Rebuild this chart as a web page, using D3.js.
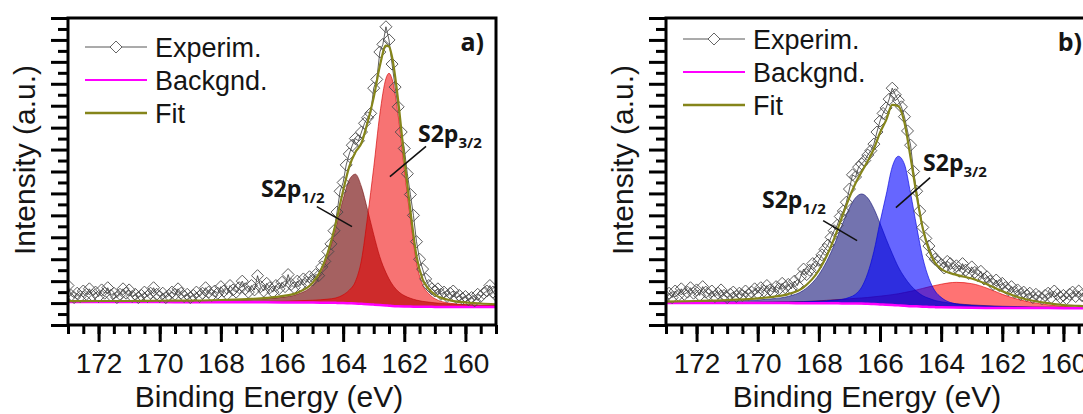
<!DOCTYPE html>
<html>
<head>
<meta charset="utf-8">
<script src="https://cdn.jsdelivr.net/npm/d3@7"></script>
<style>
  body { margin: 0; background: #fff; overflow: hidden; }
  svg text { font-family: Arial, "Liberation Sans", sans-serif; fill: #151515; }
  .tick-label { font-size: 28px; }
  .axis-title { font-size: 30px; }
  .legend-label { font-size: 27px; }
  .panel-label, .peak-label { font-family: "Open Sans", sans-serif; font-weight: bold; }
</style>
</head>
<body>
<div id="chart"></div>
<script>
// ---- axes ----
const energyDomain = [173, 159];
const intensityDomain = [0, 28];
const xTickLabels = [172, 170, 168, 166, 164, 162, 160];

// ---- panel a) : fitted components on a shared energy grid (eV) ----
const energyGridA = [173, 172, 171, 170, 169, 168, 167, 166.5, 166, 165.5, 165, 164.75, 164.5, 164.25, 164, 163.8, 163.6, 163.4, 163.2, 163, 162.8, 162.6, 162.5, 162.4, 162.2, 162, 161.8, 161.6, 161.4, 161.2, 161, 160.5, 160, 159.5, 159];
const backgroundA = [2.10, 2.10, 2.09, 2.09, 2.08, 2.08, 2.07, 2.07, 2.06, 2.06, 2.05, 2.04, 2.03, 2.02, 2.00, 1.98, 1.96, 1.93, 1.90, 1.86, 1.82, 1.78, 1.76, 1.74, 1.71, 1.69, 1.68, 1.67, 1.66, 1.66, 1.65, 1.65, 1.65, 1.65, 1.65];
const s2p12A = [0.03, 0.04, 0.05, 0.07, 0.09, 0.14, 0.24, 0.32, 0.46, 0.74, 1.58, 2.58, 4.27, 6.70, 9.50, 11.27, 11.80, 10.67, 8.60, 6.40, 4.40, 3.00, 2.45, 2.00, 1.36, 0.99, 0.76, 0.60, 0.50, 0.43, 0.37, 0.27, 0.20, 0.16, 0.13];
const s2p32A = [0.05, 0.05, 0.05, 0.05, 0.05, 0.06, 0.07, 0.09, 0.11, 0.15, 0.21, 0.26, 0.33, 0.44, 0.75, 1.20, 2.00, 4.00, 8.00, 12.5, 17.4, 20.7, 21.2, 20.7, 17.4, 12.5, 8.00, 4.00, 2.00, 1.20, 0.75, 0.33, 0.21, 0.15, 0.11];
const fitA = [2.18, 2.19, 2.19, 2.21, 2.22, 2.28, 2.38, 2.48, 2.63, 2.95, 3.84, 4.88, 6.63, 9.16, 12.25, 14.45, 15.76, 16.6, 18.5, 20.76, 23.62, 25.48, 25.41, 24.44, 20.47, 15.18, 10.44, 6.27, 4.16, 3.29, 2.77, 2.25, 2.06, 1.96, 1.89];

// ---- panel b) ----
const energyGridB = [173, 172, 171, 170, 169.5, 169, 168.5, 168, 167.75, 167.5, 167.25, 167, 166.8, 166.6, 166.4, 166.2, 166, 165.8, 165.6, 165.4, 165.2, 165, 164.8, 164.6, 164.4, 164.2, 164, 163.5, 163, 162.5, 162, 161.5, 161, 160.5, 160, 159.5, 159];
const backgroundB = [2.00, 2.00, 2.00, 2.00, 2.00, 2.00, 1.99, 1.99, 1.98, 1.98, 1.97, 1.97, 1.96, 1.95, 1.93, 1.91, 1.88, 1.85, 1.82, 1.79, 1.76, 1.72, 1.70, 1.67, 1.65, 1.63, 1.62, 1.59, 1.57, 1.56, 1.55, 1.55, 1.54, 1.54, 1.53, 1.53, 1.53];
const s2p12B = [0.09, 0.12, 0.18, 0.29, 0.40, 0.61, 1.18, 2.60, 3.80, 5.30, 7.10, 8.70, 9.65, 10.0, 9.65, 8.70, 7.40, 6.00, 4.70, 3.50, 2.60, 1.90, 1.37, 1.00, 0.78, 0.61, 0.50, 0.35, 0.26, 0.20, 0.16, 0.13, 0.11, 0.095, 0.08, 0.07, 0.06];
const s2p32B = [0.02, 0.03, 0.04, 0.06, 0.07, 0.09, 0.12, 0.18, 0.22, 0.28, 0.36, 0.55, 0.85, 1.50, 2.80, 4.80, 7.50, 10.0, 12.6, 13.6, 12.9, 10.3, 7.25, 4.45, 2.60, 1.47, 0.90, 0.33, 0.21, 0.15, 0.11, 0.08, 0.06, 0.05, 0.04, 0.035, 0.03];
const thirdPeakB = [0.03, 0.04, 0.05, 0.08, 0.10, 0.12, 0.15, 0.22, 0.27, 0.32, 0.37, 0.42, 0.47, 0.52, 0.58, 0.66, 0.75, 0.84, 0.95, 1.06, 1.20, 1.35, 1.50, 1.67, 1.83, 1.97, 2.10, 2.30, 2.20, 1.80, 1.25, 0.80, 0.50, 0.30, 0.17, 0.10, 0.06];
const fitB = [2.14, 2.19, 2.27, 2.43, 2.57, 2.82, 3.44, 4.99, 6.27, 7.88, 9.80, 11.64, 12.93, 13.97, 14.96, 16.07, 17.53, 18.69, 20.07, 19.95, 18.46, 15.27, 11.82, 8.79, 6.86, 5.68, 5.12, 4.57, 4.24, 3.71, 3.07, 2.56, 2.21, 1.99, 1.82, 1.74, 1.68];

// ---- experimental points, 173.0 -> 159.0 eV in 0.1 eV steps ----
const expStart = 173, expStep = 0.1;
const experimA = [
  3.6, 2.7, 2.5, 2.9, 2.6, 3.1, 2.8, 3.3, 2.7, 3.0, 2.6, 3.2, 2.9, 3.4, 2.7, 2.9, 2.5, 2.8, 3.3, 2.9,
  3.2, 2.6, 2.8, 2.5, 2.7, 3.0, 2.6, 2.9, 3.4, 2.8, 2.6,
  2.9, 2.5, 2.7, 3.0, 2.8, 3.3, 2.9, 2.6, 2.8, 2.5, 2.7, 3.0, 2.6, 2.9, 3.4, 3.0, 2.7, 3.1, 2.9, 3.5,
  3.1, 2.8, 3.6, 3.2, 3.0, 3.4, 4.0, 3.3, 3.0, 3.6, 3.2, 4.5, 3.5, 3.1, 3.8, 3.4, 3.0, 3.6, 3.3, 3.9,
  3.5, 4.6, 3.7, 3.4, 4.0, 3.6, 4.2, 3.9, 4.4, 4.1, 4.6, 4.5, 5.3, 5.8, 6.7, 7.4, 8.6, 10.3, 12.2, 13.0,
  14.6, 15.6, 16.4, 17.0, 16.8, 17.6, 18.4, 18.9, 19.3, 21.6, 22.4, 24.9, 25.6, 27.2, 26.0, 23.8, 21.7, 19.9, 17.6, 16.1,
  13.8, 11.9, 10.0, 7.6, 6.0, 5.1, 4.2, 3.6, 3.3, 3.1,
  3.3, 2.8, 3.0, 2.6, 2.9, 3.1, 2.5, 2.7, 2.4, 2.6, 2.3, 2.5, 2.2, 2.8, 2.6, 2.9, 3.1, 3.6, 3.0, 2.7
];
const experimB = [
  2.6, 2.9, 2.5, 3.1, 2.7, 3.3, 2.8, 3.0, 3.4, 2.9, 3.2, 2.7, 3.5, 3.0, 2.8, 3.1, 2.6, 2.9, 3.2, 2.7,
  2.5, 2.8, 3.0, 2.6, 2.9, 2.7, 3.1, 2.8, 3.0, 3.3,
  2.9, 3.4, 3.1, 3.6, 3.2, 3.0, 3.5, 3.3, 3.8, 3.4, 3.7, 3.3, 4.0, 3.6, 4.4, 5.1, 4.6, 5.0, 5.6, 5.3,
  5.9, 6.4, 6.9, 7.3, 8.0, 8.6, 9.1, 9.9, 10.4, 11.2, 12.4, 13.7, 13.5, 14.4, 14.7, 15.0, 15.5, 15.9, 16.5, 17.6,
  18.6, 19.3, 19.8, 20.6, 21.6, 21.0, 20.5, 19.9, 19.0, 17.7, 16.4, 14.0, 12.2, 10.4, 8.9, 7.9, 7.2, 6.4, 6.0, 5.8,
  5.5, 5.2, 5.8, 5.6, 5.1, 5.4, 4.9, 5.6, 5.0, 4.7, 5.3, 4.8, 4.5, 4.9, 4.2, 4.4, 4.0, 3.7, 4.1, 3.6,
  3.8, 3.4, 3.2, 3.5, 3.0, 3.2, 2.8, 3.0, 2.7, 2.9, 2.5, 2.8, 2.6, 2.4, 2.7, 2.9, 2.5, 3.1, 2.8, 2.5,
  2.7, 2.4, 2.8, 3.0, 2.6, 3.1, 2.7, 2.5, 2.8, 2.6, 2.9
];

const legendItems = ['Experim.', 'Backgnd.', 'Fit'];

class XpsPanel {

  constructor(_config, _data) {
    this.config = {
      parentElement: _config.parentElement,
      id: _config.id,
      offsetX: _config.offsetX || 0,
      margin: {top: 18, left: 68},
      width: 428,
      height: 307,
      panelLabel: _config.panelLabel,
      legendTop: _config.legendTop,
      components: _config.components,
      notes: _config.notes
    };
    this.data = _data;
    this.initVis();
  }

  initVis() {
    let vis = this;

    vis.chart = vis.config.parentElement.append('g')
        .attr('transform', `translate(${vis.config.offsetX + vis.config.margin.left},${vis.config.margin.top})`);

    vis.xScale = d3.scaleLinear().domain(energyDomain).range([0, vis.config.width]);
    vis.yScale = d3.scaleLinear().domain(intensityDomain).range([vis.config.height, 0]);

    vis.chart.append('clipPath').attr('id', `clip-${vis.config.id}`)
      .append('rect')
        .attr('width', vis.config.width)
        .attr('height', vis.config.height);

    vis.plot = vis.chart.append('g').attr('clip-path', `url(#clip-${vis.config.id})`);

    vis.renderVis();
  }

  renderVis() {
    let vis = this;
    const grid = vis.data.grid;
    const bg = vis.data.background;

    // Filled peak components sitting on the background
    vis.config.components.forEach(c => {
      const area = d3.area()
          .x((d, i) => vis.xScale(grid[i]))
          .y0((d, i) => vis.yScale(bg[i]))
          .y1((d, i) => vis.yScale(bg[i] + d))
          .curve(d3.curveMonotoneX);
      vis.plot.append('path')
          .datum(c.values)
          .attr('d', area)
          .attr('fill', c.fill)
          .attr('stroke', c.stroke)
          .attr('stroke-width', 0.8);
    });

    const gridLine = d3.line()
        .x((d, i) => vis.xScale(grid[i]))
        .y(d => vis.yScale(d))
        .curve(d3.curveMonotoneX);

    // Background
    vis.plot.append('path')
        .datum(bg)
        .attr('d', gridLine)
        .attr('fill', 'none')
        .attr('stroke', '#ff00ff')
        .attr('stroke-width', 2.5);

    // Experimental points
    const exp = vis.data.experim.map((v, i) => ({e: expStart - i * expStep, v: v}));
    vis.plot.append('path')
        .datum(exp)
        .attr('d', d3.line().x(d => vis.xScale(d.e)).y(d => vis.yScale(d.v)))
        .attr('fill', 'none')
        .attr('stroke', '#1a1a1a')
        .attr('stroke-width', 0.7);

    vis.plot.selectAll('.pt')
        .data(exp)
      .join('path')
        .attr('class', 'pt')
        .attr('transform', d => `translate(${vis.xScale(d.e)},${vis.yScale(d.v)})`)
        .attr('d', 'M0,-6L6,0L0,6L-6,0Z')
        .attr('fill', 'none')
        .attr('stroke', '#4a4a4a')
        .attr('stroke-width', 0.9);

    // Fit envelope
    vis.plot.append('path')
        .datum(vis.data.fit)
        .attr('d', gridLine)
        .attr('fill', 'none')
        .attr('stroke', '#85851a')
        .attr('stroke-width', 2.2);

    // Peak annotations
    vis.config.notes.forEach(n => {
      vis.chart.append('line')
          .attr('x1', vis.xScale(n.line[0][0])).attr('y1', vis.yScale(n.line[0][1]))
          .attr('x2', vis.xScale(n.line[1][0])).attr('y2', vis.yScale(n.line[1][1]))
          .attr('stroke', '#111')
          .attr('stroke-width', 1.6);
      const t = vis.chart.append('text')
          .attr('class', 'peak-label')
          .attr('x', vis.xScale(n.e))
          .attr('y', vis.yScale(n.i))
          .style('font-size', '23px')
          .text('S2p');
      t.append('tspan')
          .attr('dy', 6)
          .style('font-size', '15px')
          .text(n.sub);
    });

    // Frame
    vis.chart.append('rect')
        .attr('width', vis.config.width)
        .attr('height', vis.config.height)
        .attr('fill', 'none')
        .attr('stroke', '#000')
        .attr('stroke-width', 3);

    // X axis: major ticks with labels, minor ticks every 0.5 eV
    const xMinor = d3.range(energyDomain[0], energyDomain[1] - 0.01, -0.5);
    const xAxisG = vis.chart.append('g')
        .attr('transform', `translate(0,${vis.config.height})`);
    xAxisG.append('g')
        .call(d3.axisBottom(vis.xScale).tickValues(xMinor).tickSize(9).tickFormat(''));
    xAxisG.append('g')
        .call(d3.axisBottom(vis.xScale).tickValues(xTickLabels).tickSize(17).tickFormat(d3.format('d')));
    xAxisG.selectAll('.domain').remove();
    xAxisG.selectAll('.tick line').attr('stroke', '#000').attr('stroke-width', 3);
    xAxisG.selectAll('.tick text')
        .attr('class', 'tick-label')
        .attr('y', 48)
        .attr('dy', 0)
        .attr('font-size', null)
        .attr('font-family', null);

    // Y axis: unlabeled major/minor ticks
    const yAxisG = vis.chart.append('g');
    yAxisG.append('g')
        .call(d3.axisLeft(vis.yScale).tickValues(d3.range(1, 28, 2)).tickSize(10).tickFormat(''));
    yAxisG.append('g')
        .call(d3.axisLeft(vis.yScale).tickValues(d3.range(0, 29, 2)).tickSize(17).tickFormat(''));
    yAxisG.selectAll('.domain').remove();
    yAxisG.selectAll('.tick line').attr('stroke', '#000').attr('stroke-width', 3);

    // Axis titles
    vis.chart.append('text')
        .attr('class', 'axis-title')
        .attr('text-anchor', 'middle')
        .attr('x', 201)
        .attr('y', 389)
        .text('Binding Energy (eV)');

    vis.chart.append('text')
        .attr('class', 'axis-title')
        .attr('text-anchor', 'middle')
        .attr('transform', 'translate(-33,142) rotate(-90)')
        .text('Intensity (a.u.)');

    // Panel label
    vis.chart.append('text')
        .attr('class', 'panel-label')
        .attr('text-anchor', 'end')
        .attr('x', 416)
        .attr('y', 33)
        .style('font-size', '25px')
        .text(vis.config.panelLabel);

    // Legend
    const legend = vis.chart.append('g')
        .attr('transform', `translate(17,${vis.config.legendTop})`);
    const row = legend.selectAll('.legend-row')
        .data(legendItems)
      .join('g')
        .attr('class', 'legend-row')
        .attr('transform', (d, i) => `translate(0,${i * 33})`);
    row.append('line')
        .attr('x1', 0).attr('x2', 62)
        .attr('stroke', (d, i) => ['#444', '#ff00ff', '#85851a'][i])
        .attr('stroke-width', (d, i) => [0.9, 2.2, 2.4][i]);
    row.filter((d, i) => i === 0).append('path')
        .attr('transform', 'translate(31,0)')
        .attr('d', 'M0,-6L6,0L0,6L-6,0Z')
        .attr('fill', '#fff')
        .attr('stroke', '#555')
        .attr('stroke-width', 0.9);
    row.append('text')
        .attr('class', 'legend-label')
        .attr('x', 70)
        .attr('dy', '0.36em')
        .text(d => d);
  }
}

const svg = d3.select('#chart').append('svg')
    .attr('width', 1083)
    .attr('height', 414);
svg.append('rect').attr('width', 1083).attr('height', 414).attr('fill', '#fff');

new XpsPanel({
  parentElement: svg,
  id: 'a',
  offsetX: 0,
  panelLabel: 'a)',
  legendTop: 29,
  components: [
    {values: s2p12A, fill: 'rgba(110,0,0,0.62)', stroke: 'rgba(110,0,0,0.7)'},
    {values: s2p32A, fill: 'rgba(240,0,0,0.55)', stroke: 'rgba(210,0,0,0.8)'}
  ],
  notes: [
    {sub: '3/2', e: 161.55, i: 16.65, line: [[161.29, 16.29], [162.47, 13.54]]},
    {sub: '1/2', e: 166.69, i: 11.71, line: [[164.86, 10.80], [163.71, 8.97]]}
  ]
}, {grid: energyGridA, background: backgroundA, fit: fitA, experim: experimA});

new XpsPanel({
  parentElement: svg,
  id: 'b',
  offsetX: 598,
  panelLabel: 'b)',
  legendTop: 21,
  components: [
    {values: thirdPeakB, fill: 'rgba(255,0,0,0.55)', stroke: 'rgba(220,0,0,0.8)'},
    {values: s2p12B, fill: 'rgba(0,0,110,0.55)', stroke: 'rgba(0,0,110,0.7)'},
    {values: s2p32B, fill: 'rgba(0,0,255,0.6)', stroke: 'rgba(0,0,220,0.8)'}
  ],
  notes: [
    {sub: '3/2', e: 164.59, i: 14.09, line: [[164.36, 13.45], [165.48, 10.70]]},
    {sub: '1/2', e: 169.86, i: 10.70, line: [[167.86, 9.52], [166.75, 7.69]]}
  ]
}, {grid: energyGridB, background: backgroundB, fit: fitB, experim: experimB});
</script>
</body>
</html>
